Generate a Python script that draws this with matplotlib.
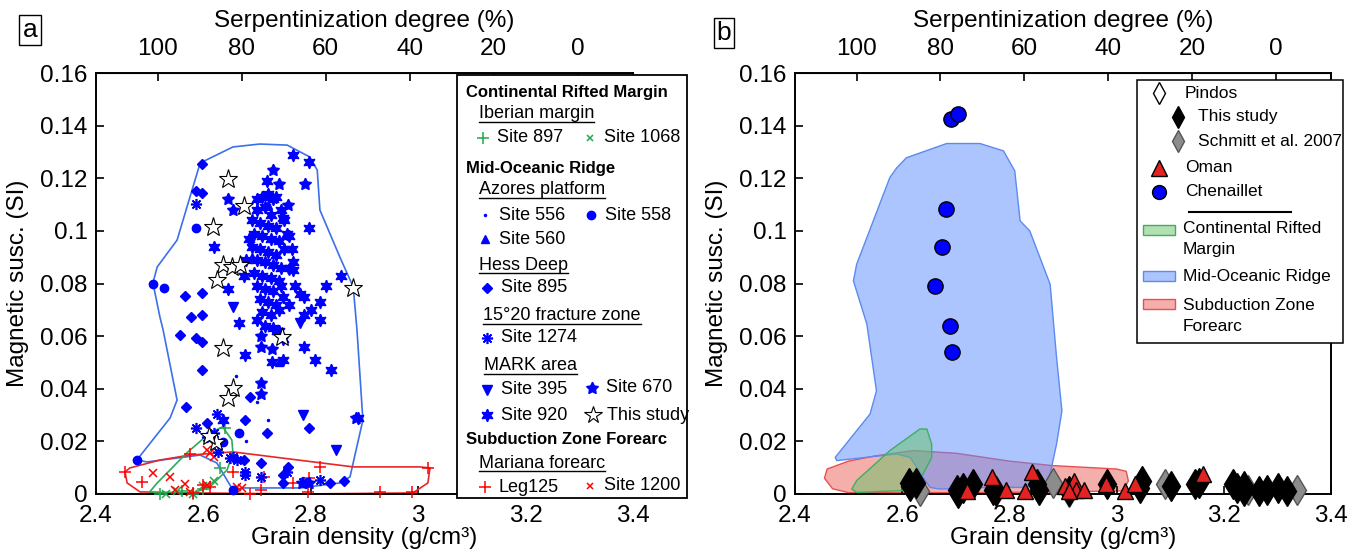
import matplotlib
matplotlib.use("Agg")
import matplotlib.pyplot as plt
from matplotlib.patches import Rectangle, Polygon

plt.rcParams['font.family'] = ['Liberation Sans', 'DejaVu Sans']

# ---- hull outlines (grain density, magnetic susceptibility) ----
mor_a_x = [2.594, 2.655, 2.705, 2.756, 2.798, 2.812, 2.817, 2.854, 2.879, 2.886, 2.897, 2.873, 2.854,
           2.780, 2.674, 2.655, 2.625, 2.594, 2.495, 2.476, 2.538, 2.551, 2.525, 2.519, 2.506, 2.514,
           2.551, 2.575]
mor_a_y = [0.1258, 0.1319, 0.1330, 0.1326, 0.1281, 0.1231, 0.1079, 0.0901, 0.0787, 0.0623, 0.0281,
           0.0065, 0.0042, 0.0023, 0.0023, 0.0015, 0.0118, 0.0148, 0.0122, 0.0129, 0.0289, 0.0357,
           0.0623, 0.0673, 0.0802, 0.0863, 0.0965, 0.1129]
szf_a_x = [2.454, 2.458, 2.482, 2.594, 2.780, 2.990, 3.018, 3.022, 3.003, 2.879, 2.655, 2.575, 2.519, 2.463]
szf_a_y = [0.0084, 0.0042, 0.0008, 0.0004, 0.0000, 0.0004, 0.0042, 0.0099, 0.0103, 0.0103, 0.0160,
           0.0148, 0.0129, 0.0099]
crm_a_x = [2.500, 2.514, 2.569, 2.612, 2.636, 2.653, 2.655, 2.644, 2.612, 2.581, 2.506]
crm_a_y = [0.0008, 0.0042, 0.0156, 0.0232, 0.0255, 0.0205, 0.0156, 0.0091, 0.0027, 0.0004, 0.0004]

mor_b_x = [2.590, 2.608, 2.683, 2.745, 2.789, 2.810, 2.820, 2.838, 2.876, 2.888, 2.898, 2.888, 2.876,
           2.870, 2.826, 2.764, 2.670, 2.652, 2.639, 2.615, 2.590, 2.478, 2.475, 2.540, 2.552, 2.534,
           2.509, 2.515, 2.546, 2.577]
mor_b_y = [0.1240, 0.1278, 0.1332, 0.1332, 0.1304, 0.1228, 0.1038, 0.1000, 0.0797, 0.0519, 0.0316,
           0.0190, 0.0076, 0.0044, 0.0025, 0.0025, 0.0019, 0.0025, 0.0063, 0.0139, 0.0152, 0.0127,
           0.0139, 0.0304, 0.0392, 0.0646, 0.0810, 0.0873, 0.1038, 0.1203]
szf_b_x = [2.460, 2.500, 2.550, 2.620, 2.700, 2.800, 2.880, 3.000, 3.018, 3.022, 3.012, 2.900, 2.700,
           2.500, 2.470, 2.455]
szf_b_y = [0.0095, 0.0125, 0.0145, 0.0165, 0.0155, 0.0125, 0.0108, 0.0095, 0.0086, 0.0050, 0.0012,
           0.0008, 0.0005, 0.0005, 0.0020, 0.0060]
crm_b_x = [2.506, 2.515, 2.577, 2.633, 2.646, 2.655, 2.655, 2.639, 2.602, 2.515]
crm_b_y = [0.0019, 0.0051, 0.0165, 0.0247, 0.0247, 0.0190, 0.0139, 0.0076, 0.0013, 0.0006]

# ---- panel a samples ----
s556_x = [2.68, 2.70, 2.66, 2.72]
s556_y = [0.020, 0.035, 0.045, 0.028]
s558_x = [2.586, 2.507, 2.527, 2.476, 2.637, 2.667, 2.656]
s558_y = [0.1012, 0.0800, 0.0784, 0.0131, 0.0199, 0.0230, 0.0015]
s560_x = [2.69, 2.72, 2.74]
s560_y = [0.090, 0.110, 0.050]
s895_x = [2.597, 2.587, 2.597, 2.566, 2.597, 2.576, 2.597, 2.556, 2.586, 2.597, 2.597, 2.567, 2.606,
          2.677, 2.687, 2.718, 2.797, 2.708, 2.748, 2.758, 2.748, 2.836, 2.861, 2.676]
s895_y = [0.1256, 0.1152, 0.1145, 0.0753, 0.0762, 0.0671, 0.0682, 0.0604, 0.0591, 0.0579, 0.0471,
          0.0329, 0.0271, 0.0281, 0.0370, 0.0230, 0.0252, 0.0119, 0.0071, 0.0104, 0.0040, 0.0043,
          0.0049, 0.0129]
s1274_x = [2.586, 2.587, 2.626, 2.606, 2.619, 2.650, 2.656, 2.663, 2.677, 2.677, 2.708, 2.755, 2.786,
           2.817, 2.628]
s1274_y = [0.1102, 0.0249, 0.0304, 0.0215, 0.0230, 0.0135, 0.0142, 0.0129, 0.0085, 0.0072, 0.0066,
           0.0085, 0.0047, 0.0055, 0.0161]
s395_x = [2.656, 2.786, 2.847, 2.76, 2.78]
s395_y = [0.0712, 0.0300, 0.0167, 0.085, 0.065]
s670_x = [2.646, 2.656, 2.758, 2.707, 2.707, 2.707, 2.707, 2.727, 2.797, 2.783, 2.885, 2.79, 2.74, 2.73]
s670_y = [0.112, 0.108, 0.110, 0.060, 0.056, 0.042, 0.038, 0.055, 0.004, 0.004, 0.029, 0.118, 0.118,
          0.123]
s920_x = [2.767, 2.797, 2.718, 2.748, 2.797, 2.619, 2.767, 2.767, 2.857, 2.828, 2.780, 2.787, 2.817,
          2.817, 2.787, 2.748, 2.737, 2.667, 2.646, 2.740, 2.748, 2.787, 2.808, 2.838, 2.748, 2.727,
          2.677, 2.637, 2.887, 2.80, 2.76, 2.77,
          2.70, 2.71, 2.72, 2.73, 2.735, 2.70, 2.715, 2.725, 2.745, 2.69, 2.705, 2.72, 2.735, 2.75,
          2.695, 2.71, 2.725, 2.74, 2.755, 2.69, 2.705, 2.72, 2.735, 2.75, 2.70, 2.715, 2.73, 2.745,
          2.695, 2.71, 2.725, 2.74, 2.70, 2.715, 2.73, 2.745, 2.705, 2.72, 2.735, 2.71, 2.725, 2.74,
          2.715, 2.73, 2.70, 2.765, 2.76, 2.68, 2.685, 2.675]
s920_y = [0.129, 0.126, 0.119, 0.105, 0.101, 0.094, 0.088, 0.085, 0.083, 0.079, 0.076, 0.075, 0.073,
          0.066, 0.068, 0.075, 0.062, 0.065, 0.078, 0.062, 0.059, 0.056, 0.051, 0.047, 0.051, 0.050,
          0.053, 0.028, 0.029, 0.070, 0.072, 0.079,
          0.112, 0.113, 0.114, 0.112, 0.113, 0.108, 0.109, 0.106, 0.108, 0.104, 0.103, 0.102, 0.101,
          0.104, 0.099, 0.098, 0.097, 0.096, 0.099, 0.094, 0.093, 0.092, 0.091, 0.093, 0.089, 0.088,
          0.087, 0.086, 0.084, 0.083, 0.082, 0.081, 0.079, 0.078, 0.077, 0.079, 0.074, 0.073, 0.072,
          0.069, 0.068, 0.070, 0.064, 0.063, 0.066, 0.093, 0.098, 0.089, 0.097, 0.083]
study_a_x = [2.646, 2.676, 2.617, 2.878, 2.637, 2.653, 2.668, 2.626, 2.637, 2.656, 2.646, 2.624, 2.746,
             2.61]
study_a_y = [0.1199, 0.1094, 0.1016, 0.0781, 0.0870, 0.0864, 0.0870, 0.0813, 0.0553, 0.0401, 0.0363,
             0.0199, 0.0598, 0.022]
s897_x = [2.52, 2.56, 2.60, 2.64, 2.63, 2.58]
s897_y = [0.000, 0.001, 0.002, 0.025, 0.010, 0.000]
s1068_x = [2.55, 2.58, 2.60, 2.62, 2.53]
s1068_y = [0.001, 0.000, 0.003, 0.005, 0.000]
leg125_x = [2.454, 2.485, 2.575, 2.600, 2.712, 2.707, 2.817, 2.797, 2.767, 2.929, 2.988, 3.019, 2.687,
            2.795, 2.656, 2.612, 2.58]
leg125_y = [0.0085, 0.0047, 0.0152, 0.0034, 0.0066, 0.0015, 0.0104, 0.0059, 0.0040, 0.0009, 0.0009,
            0.0097, 0.0000, 0.0009, 0.0085, 0.0028, 0.0005]
s1200_x = [2.507, 2.538, 2.566, 2.547, 2.606, 2.619, 2.662, 2.671, 2.606, 2.575, 2.612]
s1200_y = [0.0078, 0.0066, 0.0038, 0.0015, 0.0167, 0.0142, 0.0028, 0.0021, 0.0034, 0.0009, 0.0155]

# ---- panel b samples ----
chen_x = [2.691, 2.705, 2.682, 2.674, 2.661, 2.689, 2.693]
chen_y = [0.1424, 0.1446, 0.1082, 0.0939, 0.0791, 0.0639, 0.0538]
pindos_x = [2.612, 2.626, 2.615, 2.702, 2.714, 2.733, 2.769, 2.852, 2.856, 2.912, 2.983, 3.047, 3.043,
            3.102, 3.146, 3.154, 3.217, 3.237, 3.265, 3.281, 3.301, 3.317, 3.237, 3.225, 2.705, 2.775]
pindos_y = [0.0043, 0.0043, 0.0030, 0.0017, 0.0024, 0.0037, 0.0017, 0.0037, 0.0017, 0.0010, 0.0037,
            0.0050, 0.0024, 0.0030, 0.0037, 0.0043, 0.0037, 0.0010, 0.0010, 0.0017, 0.0024, 0.0010,
            0.0030, 0.0024, 0.0005, 0.0010]
schmitt_x = [2.633, 2.882, 3.090, 3.245, 3.336, 2.912]
schmitt_y = [0.0010, 0.0043, 0.0037, 0.0017, 0.0017, 0.0008]
oman_x = [2.720, 2.767, 2.794, 2.829, 2.843, 2.904, 2.920, 2.924, 2.940, 2.980, 3.015, 3.035, 3.162,
          2.912]
oman_y = [0.0010, 0.0063, 0.0017, 0.0013, 0.0082, 0.0030, 0.0050, 0.0017, 0.0017, 0.0037, 0.0013,
          0.0037, 0.0076, 0.0010]

x_ticks = [2.4, 2.6, 2.8, 3.0, 3.2, 3.4]
x_tick_labels = ['2.4', '2.6', '2.8', '3', '3.2', '3.4']
y_ticks = [0, 0.02, 0.04, 0.06, 0.08, 0.1, 0.12, 0.14, 0.16]
y_tick_labels = ['0', '0.02', '0.04', '0.06', '0.08', '0.1', '0.12', '0.14', '0.16']
serp_ticks = [100, 80, 60, 40, 20, 0]

BLUE = (0, 0, 1)
GREEN = '#22A84E'
FS = 17.5


def dens_to_serp(d):
    return (3.297 - d) / 0.00782


def serp_to_dens(s):
    return 3.297 - 0.00782 * s


def setup(ax):
    ax.set_xlim(2.4, 3.4)
    ax.set_ylim(0, 0.16)
    ax.set_xticks(x_ticks)
    ax.set_xticklabels(x_tick_labels)
    ax.set_yticks(y_ticks)
    ax.set_yticklabels(y_tick_labels)
    ax.tick_params(direction='in', length=6, width=1.2, labelsize=FS, top=False, right=False)
    ax.tick_params(axis='x', pad=8)
    ax.tick_params(axis='y', pad=6)
    for sp in ax.spines.values():
        sp.set_linewidth(1.4)
    ax.set_xlabel('Grain density (g/cm³)', fontsize=FS, labelpad=0)
    ax.set_ylabel('Magnetic susc. (SI)', fontsize=FS, labelpad=8)
    sec = ax.secondary_xaxis('top', functions=(dens_to_serp, serp_to_dens))
    sec.set_xticks(serp_ticks)
    sec.set_xticklabels([str(t) for t in serp_ticks])
    sec.tick_params(direction='in', length=6, width=1.2, labelsize=FS, pad=9)
    sec.set_xlabel('Serpentinization degree (%)', fontsize=FS, labelpad=8)


fig = plt.figure(figsize=(13.55, 5.54), dpi=100)
ax_a = fig.add_axes([96 / 1355, 60 / 554, 537 / 1355, 421 / 554])
ax_b = fig.add_axes([795 / 1355, 60 / 554, 536 / 1355, 421 / 554])
setup(ax_a)
setup(ax_b)

# panel a: outlines
ax_a.add_patch(Polygon(list(zip(mor_a_x, mor_a_y)), closed=True, fill=False, ec='#3C6FEA', lw=1.2, zorder=2))
ax_a.add_patch(Polygon(list(zip(szf_a_x, szf_a_y)), closed=True, fill=False, ec='#E8262A', lw=1.2, zorder=2))
ax_a.add_patch(Polygon(list(zip(crm_a_x, crm_a_y)), closed=True, fill=False, ec='#2EAA55', lw=1.2, zorder=2))

mk = dict(ls='none', clip_on=False, zorder=3)
ax_a.plot(s897_x, s897_y, marker='+', color=GREEN, ms=8, mew=1.1, **mk)
ax_a.plot(s1068_x, s1068_y, marker='x', color=GREEN, ms=6, mew=1.1, **mk)
ax_a.plot(leg125_x, leg125_y, marker='+', color='red', ms=9, mew=1.1, **mk)
ax_a.plot(s1200_x, s1200_y, marker='x', color='red', ms=6, mew=1.1, **mk)
ax_a.plot(s556_x, s556_y, marker='.', color=BLUE, ms=3, **mk)
ax_a.plot(s558_x, s558_y, marker='o', color=BLUE, ms=6, mec=BLUE, **mk)
ax_a.plot(s560_x, s560_y, marker='^', color=BLUE, ms=6, mec=BLUE, **mk)
ax_a.plot(s895_x, s895_y, marker='D', color=BLUE, ms=5.5, mec=BLUE, **mk)
ax_a.plot(s1274_x, s1274_y, marker=(8, 2, 0), color=BLUE, ms=8, mew=1.2, **mk)
ax_a.plot(s395_x, s395_y, marker='v', color=BLUE, ms=7, mec=BLUE, **mk)
ax_a.plot(s920_x, s920_y, marker=(6, 1, 0), color=BLUE, ms=9, mec=BLUE, **mk)
ax_a.plot(s670_x, s670_y, marker=(5, 1, 0), color=BLUE, ms=9, mec=BLUE, **mk)
ax_a.plot(study_a_x, study_a_y, marker='*', mfc='white', mec='black', ms=14, mew=0.8, **mk)

# panel b: filled regions
ax_b.add_patch(Polygon(list(zip(szf_b_x, szf_b_y)), closed=True, fc=(0.93, 0.38, 0.35, 0.5),
                       ec='#E85050', lw=1.0, zorder=1))
ax_b.add_patch(Polygon(list(zip(mor_b_x, mor_b_y)), closed=True, fc=(0.36, 0.55, 1.0, 0.5),
                       ec='#5B8AF0', lw=1.0, zorder=2))
ax_b.add_patch(Polygon(list(zip(crm_b_x, crm_b_y)), closed=True, fc=(0.40, 0.76, 0.40, 0.5),
                       ec='#3CB060', lw=1.0, zorder=3))

ax_b.plot(chen_x, chen_y, marker='o', mfc=BLUE, mec='black', ms=11, mew=1.0, **mk)
ax_b.plot(schmitt_x, schmitt_y, marker='d', mfc='#8C8C8C', mec='#555555', ms=15, mew=1.0, **mk)
ax_b.plot(pindos_x, pindos_y, marker='d', mfc='black', mec='black', ms=15, mew=1.0, **mk)
ax_b.plot(oman_x, oman_y, marker='^', mfc='#E32322', mec='black', ms=12, mew=1.0, **mk)

# overlay in figure pixels for panel labels and legends
ov = fig.add_axes([0, 0, 1, 1], zorder=10)
ov.set_xlim(0, 1355)
ov.set_ylim(554, 0)
ov.axis('off')
ov.patch.set_alpha(0)

ov.text(30, 30, 'a', fontsize=19, ha='center', va='center',
        bbox=dict(boxstyle='square,pad=0.12', fc='white', ec='black', lw=1))
ov.text(724, 33, 'b', fontsize=19, ha='center', va='center',
        bbox=dict(boxstyle='square,pad=0.12', fc='white', ec='black', lw=1))

# legend a
ov.add_patch(Rectangle((457, 75), 230, 423, fc='white', ec='black', lw=1.3))
heads = [('Continental Rifted Margin', 93), ('Mid-Oceanic Ridge', 168), ('Subduction Zone Forearc', 440)]
for t, y in heads:
    ov.text(466, y, t, fontsize=12, fontweight='bold', va='center')
subs = [('Iberian margin', 479, 114), ('Azores platform', 479, 190), ('Hess Deep', 479, 265),
        ('15°20 fracture zone', 483, 316), ('MARK area', 484, 366), ('Mariana forearc', 479, 463)]
sub_texts = []
for t, x, y in subs:
    sub_texts.append(ov.text(x, y, t, fontsize=13, va='center'))

entries = [
    (483, 138, 'Site 897', dict(marker='+', color=GREEN, ms=8, mew=1.1)),
    (590, 138, 'Site 1068', dict(marker='x', color=GREEN, ms=5, mew=1.1)),
    (485, 215, 'Site 556', dict(marker='.', color=BLUE, ms=3)),
    (591, 215, 'Site 558', dict(marker='o', color=BLUE, ms=6)),
    (485, 239, 'Site 560', dict(marker='^', color=BLUE, ms=6)),
    (487, 288, 'Site 895', dict(marker='D', color=BLUE, ms=5.5)),
    (487, 338, 'Site 1274', dict(marker=(8, 2, 0), color=BLUE, ms=8, mew=1.2)),
    (487, 390, 'Site 395', dict(marker='v', color=BLUE, ms=7)),
    (592, 388, 'Site 670', dict(marker=(5, 1, 0), color=BLUE, ms=9)),
    (487, 415, 'Site 920', dict(marker=(6, 1, 0), color=BLUE, ms=9)),
    (593, 415, 'This study', dict(marker='*', mfc='white', mec='black', ms=13, mew=0.8)),
    (485, 487, 'Leg125', dict(marker='+', color='red', ms=8, mew=1.1)),
    (590, 486, 'Site 1200', dict(marker='x', color='red', ms=5, mew=1.1)),
]
for x, y, t, style in entries:
    ov.plot([x], [y], ls='none', **style)
    ov.text(x + 14, y, t, fontsize=13, va='center')

# legend b
ov.add_patch(Rectangle((1137, 80), 206, 263, fc='white', ec='black', lw=1.1))
leg_b = [
    (1159, 93, 1185, 'Pindos', dict(marker='d', mfc='white', mec='black', ms=11, mew=1.0)),
    (1178, 117, 1198, 'This study', dict(marker='d', mfc='black', mec='black', ms=11, mew=1.0)),
    (1178, 141, 1198, 'Schmitt et al. 2007', dict(marker='d', mfc='#8C8C8C', mec='#555555', ms=11, mew=1.0)),
    (1159, 168, 1185, 'Oman', dict(marker='^', mfc='#E32322', mec='black', ms=11, mew=1.0)),
    (1159, 192, 1185, 'Chenaillet', dict(marker='o', mfc=BLUE, mec='black', ms=10, mew=1.0)),
]
for mx, my, tx, t, style in leg_b:
    ov.plot([mx], [my], ls='none', **style)
    ov.text(tx, my, t, fontsize=12.5, va='center')
ov.plot([1189, 1291], [212, 212], color='black', lw=1.5)
patches_b = [
    (225, (0.40, 0.76, 0.40, 0.5), '#3CB060', 'Continental Rifted\nMargin', 239),
    (271, (0.36, 0.55, 1.0, 0.5), '#5B8AF0', 'Mid-Oceanic Ridge', 276),
    (299, (0.93, 0.38, 0.35, 0.5), '#E85050', 'Subduction Zone\nForearc', 316),
]
for y, fc, ec, t, ty in patches_b:
    ov.add_patch(Rectangle((1143, y), 32, 10, fc=fc, ec=ec, lw=1.0))
    ov.text(1183, ty, t, fontsize=12.5, va='center', linespacing=1.45)

# underline the sub-headings of legend a
fig.canvas.draw()
renderer = fig.canvas.get_renderer()
inv = ov.transData.inverted()
for txt in sub_texts:
    bb = txt.get_window_extent(renderer)
    (x0, y0), (x1, y1) = inv.transform([(bb.x0, bb.y0), (bb.x1, bb.y1)])
    ov.plot([x0, x1], [y0 - 1, y0 - 1], color='black', lw=1.0)

fig.savefig('out.png', dpi=100)
